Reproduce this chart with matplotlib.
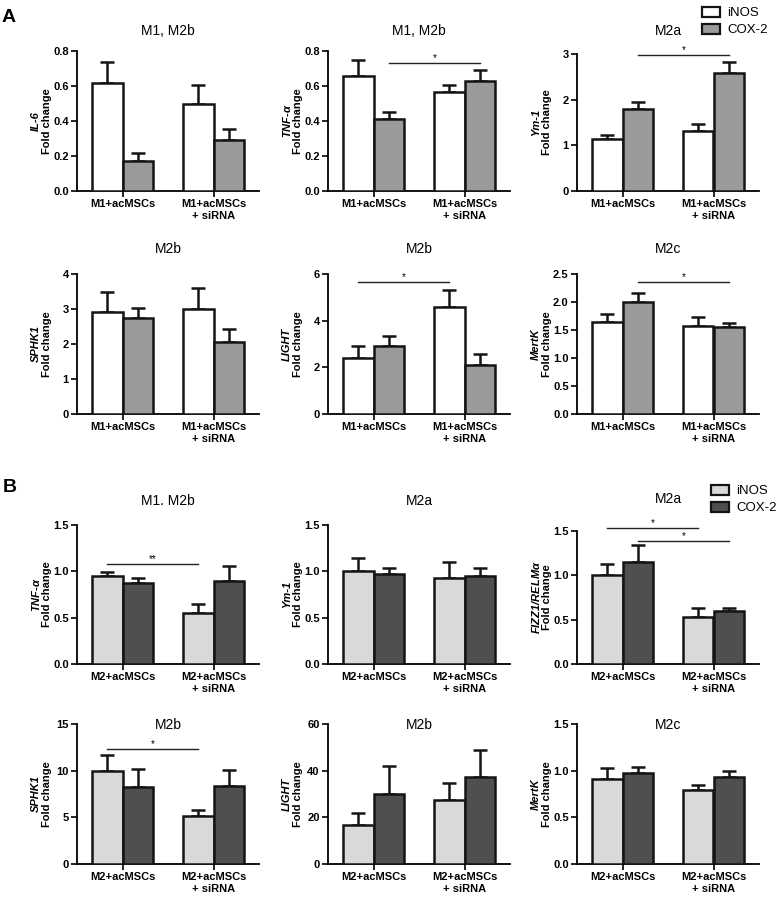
import matplotlib
matplotlib.use("Agg")
import matplotlib.pyplot as plt
from matplotlib.patches import Patch

plt.rcParams["font.family"] = ["Liberation Sans", "DejaVu Sans"]
plt.rcParams["mathtext.fontset"] = "custom"
plt.rcParams["mathtext.it"] = "Liberation Sans:italic:bold"

groups_a = ["M1+acMSCs", "M1+acMSCs\n+ siRNA"]
groups_b = ["M2+acMSCs", "M2+acMSCs\n+ siRNA"]
series = ["iNOS", "COX-2"]

titles = ["M1, M2b", "M1, M2b", "M2a", "M2b", "M2b", "M2c",
          "M1. M2b", "M2a", "M2a", "M2b", "M2b", "M2c"]
genes = ["IL-6", "TNF-$\\alpha$", "Ym-1", "SPHK1", "LIGHT", "MertK",
         "TNF-$\\alpha$", "Ym-1", "FIZZ1/RELM$\\alpha$", "SPHK1", "LIGHT", "MertK"]
ytops = [0.8, 0.8, 3, 4, 6, 2.5, 1.5, 1.5, 1.5, 15, 60, 1.5]
ysteps = [0.2, 0.2, 1, 1, 2, 0.5, 0.5, 0.5, 0.5, 5, 20, 0.5]
yfmt = ["%.1f", "%.1f", "%d", "%d", "%d", "%.1f", "%.1f", "%.1f", "%.1f", "%d", "%d", "%.1f"]

# means and upper error (SEM) per panel: [group1, group2]
inos_mean = [[0.615, 0.50], [0.655, 0.565], [1.14, 1.31], [2.91, 3.0], [2.41, 4.57], [1.65, 1.58],
             [0.95, 0.55], [1.0, 0.93], [1.0, 0.53], [10.0, 5.1], [16.7, 27.4], [0.91, 0.79]]
inos_err = [[0.12, 0.105], [0.095, 0.043], [0.09, 0.16], [0.58, 0.6], [0.52, 0.73], [0.13, 0.15],
            [0.04, 0.10], [0.14, 0.17], [0.13, 0.10], [1.7, 0.7], [5.1, 7.4], [0.12, 0.06]]
cox_mean = [[0.17, 0.29], [0.41, 0.628], [1.80, 2.58], [2.74, 2.06], [2.93, 2.11], [2.0, 1.56],
            [0.87, 0.895], [0.975, 0.955], [1.15, 0.60], [8.3, 8.4], [30.0, 37.3], [0.975, 0.93]]
cox_err = [[0.05, 0.065], [0.04, 0.062], [0.15, 0.24], [0.29, 0.37], [0.43, 0.48], [0.16, 0.06],
           [0.06, 0.165], [0.065, 0.085], [0.19, 0.03], [1.9, 1.7], [12.0, 11.7], [0.065, 0.07]]

# significance brackets: panel, series index (0 iNOS, 1 COX-2), level, label
sig_panel = [1, 2, 4, 5, 6, 8, 8, 9]
sig_series = [1, 1, 0, 1, 0, 0, 1, 0]
sig_level = [0.73, 2.98, 5.65, 2.36, 1.08, 1.53, 1.39, 12.3]
sig_text = ["*", "*", "*", "*", "**", "*", "*", "*"]

cols_a = ["white", "#9a9a9a"]
cols_b = ["#d9d9d9", "#4f4f4f"]

W, H = 778, 898
fig = plt.figure(figsize=(W / 100, H / 100), dpi=100)

col_x = [77, 328, 577]
row_y = [(51, 191), (274, 414), (525, 664), (724, 864)]
title_off = [20, 25, 24, -1]
bw = 0.34

axes = []
for i in range(12):
    r, c = divmod(i, 3)
    top, bot = row_y[r]
    toff = title_off[r]
    if i == 2:
        top = 54
        toff = 23
    if i == 8:
        top = 531
        toff = 32
    ax = fig.add_axes([col_x[c] / W, 1 - bot / H, 182 / W, (bot - top) / H])
    axes.append(ax)
    colors = cols_a if r < 2 else cols_b
    groups = groups_a if r < 2 else groups_b
    for s, (m, e) in enumerate([(inos_mean[i], inos_err[i]), (cox_mean[i], cox_err[i])]):
        xs = [g + (s - 0.5) * bw for g in range(2)]
        ax.bar(xs, m, width=bw, color=colors[s], edgecolor="#141414", linewidth=1.8, zorder=3)
        ax.errorbar(xs, m, yerr=[[0, 0], e], fmt="none", ecolor="#141414",
                    elinewidth=1.8, capsize=5, capthick=1.8, zorder=2)
    ax.set_xlim(-0.5, 1.5)
    ax.set_ylim(0, ytops[i])
    n = int(round(ytops[i] / ysteps[i]))
    ticks = [k * ysteps[i] for k in range(n + 1)]
    ax.set_yticks(ticks)
    ax.set_yticklabels([yfmt[i] % t for t in ticks], fontsize=8, fontweight="bold")
    ax.set_xticks([0, 1])
    ax.set_xticklabels(groups, fontsize=8, fontweight="bold")
    ax.tick_params(axis="both", length=4, width=1.2, pad=2)
    for sp in ["top", "right"]:
        ax.spines[sp].set_visible(False)
    for sp in ["left", "bottom"]:
        ax.spines[sp].set_linewidth(1.3)
    ax.annotate(titles[i], xy=(0.5, 1), xycoords="axes fraction",
                xytext=(0, toff), textcoords="offset pixels",
                ha="center", va="center", fontsize=10)
    ax.text(-41 / 182, 0.5, genes[i], transform=ax.transAxes, rotation=90,
            ha="center", va="center", fontsize=8, fontweight="bold", fontstyle="italic")
    ax.text(-30 / 182, 0.5, "Fold change", transform=ax.transAxes, rotation=90,
            ha="center", va="center", fontsize=8, fontweight="bold")

for p, s, lv, t in zip(sig_panel, sig_series, sig_level, sig_text):
    ax = axes[p]
    x0 = (s - 0.5) * bw
    ax.plot([x0, x0 + 1], [lv, lv], color="#222222", lw=1, clip_on=False)
    ax.text(x0 + 0.5, lv, t, ha="center", va="bottom", fontsize=7, clip_on=False)

# legends
for (lx, ly), colors in [((702, 7), cols_a), ((711, 485), cols_b)]:
    handles = [Patch(facecolor=colors[k], edgecolor="#141414", linewidth=1.6, label=series[k])
               for k in range(2)]
    fig.legend(handles=handles, loc="upper left", bbox_to_anchor=(lx / W, 1 - ly / H),
               frameon=False, fontsize=9.5, handlelength=1.4, handleheight=0.75,
               handletextpad=0.5, labelspacing=0.35, borderpad=0.0, borderaxespad=0.0)

fig.text(2 / W, 1 - 18 / H, "A", fontsize=14, fontweight="bold", va="center")
fig.text(3 / W, 1 - 487 / H, "B", fontsize=14, fontweight="bold", va="center")

fig.savefig("out.png", dpi=100)
